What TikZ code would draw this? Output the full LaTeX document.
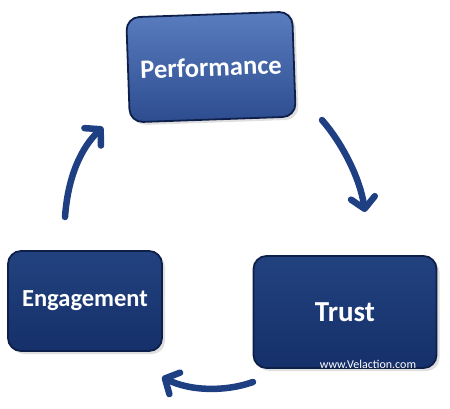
\documentclass[tikz,border=0pt]{standalone}
\usepackage{fontspec}
\setmainfont{Carlito}
\usetikzlibrary{arrows.meta,shadows}
\definecolor{arr}{HTML}{1E3F82}
\definecolor{navyA}{HTML}{22427F}
\definecolor{navyB}{HTML}{15306A}
\definecolor{edge}{HTML}{0E1F4A}
\definecolor{perfA}{HTML}{5A7DC0}
\definecolor{perfB}{HTML}{2C4C8E}
\tikzset{
  box/.style={rounded corners=13pt, draw=edge, line width=1.8pt,
    drop shadow={shadow xshift=3pt, shadow yshift=-3pt, opacity=0.25},
    text=white, font=\bfseries, align=center, inner sep=0pt},
  navybox/.style={box, top color=navyA, bottom color=navyB},
  perfbox/.style={box, top color=perfA, bottom color=perfB},
  cyc/.style={draw=arr, line width=6.5pt, line cap=round,
    -{Straight Barb[length=11pt,width=24pt,line cap=round,line join=round]}}
}
\begin{document}
\begin{tikzpicture}[x=1pt,y=-1pt]
\useasboundingbox (0,0) rectangle (450,408);
\node[perfbox, minimum width=166pt, minimum height=105pt, rotate=2] (perf) at (211,67)
  {\fontsize{26.5}{30}\selectfont Performance};
\node[navybox, minimum width=183pt, minimum height=112pt] (trust) at (345,312)
  {\fontsize{29}{34}\selectfont Trust};
\node[navybox, minimum width=154pt, minimum height=100pt] (eng) at (85,301)
  {\fontsize{24.5}{29}\selectfont Engagement};
\node[text=white, font=\fontsize{12}{14}\selectfont, anchor=center] (web) at (368,364) {www.Velaction.com};
\coordinate (a1s) at (65,217);
\coordinate (a1e) at (103,127);
\coordinate (a2s) at (322,120);
\coordinate (a2e) at (365,212);
\coordinate (a3s) at (253,382);
\coordinate (a3e) at (162,377);
\draw[cyc] (a1s) .. controls (68,175) and (82,147) .. (a1e);
\draw[cyc] (a2s) .. controls (342,143) and (360,178) .. (a2e);
\draw[cyc] (a3s) .. controls (225,392) and (190,391) .. (a3e);
\end{tikzpicture}
\end{document}
